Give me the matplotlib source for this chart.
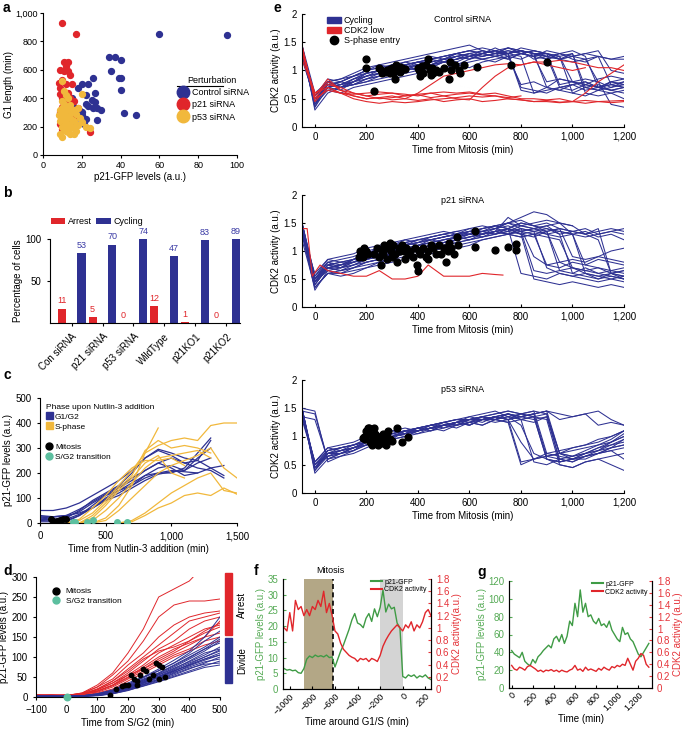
import matplotlib.pyplot as plt
import numpy as np
from matplotlib.ticker import FuncFormatter
from matplotlib.patches import Patch, Rectangle
from matplotlib.lines import Line2D

plt.rcParams['font.family'] = ['Liberation Sans', 'DejaVu Sans']
plt.rcParams['font.size'] = 7
plt.rcParams['axes.linewidth'] = 0.8
plt.rcParams['xtick.major.size'] = 2.5
plt.rcParams['ytick.major.size'] = 2.5

BLUE = '#2e3192'
RED = '#e0262b'
YEL = '#f1b83c'
TEAL = '#5cbf9f'
GREEN = '#3f9b45'
GTXT = '#55aa55'
RTXT = '#e5343a'
nan = np.nan

# ---------------- panel a: G1 length vs p21-GFP
a_ctrl_x = [60, 95, 34, 37, 40, 35, 39, 40, 40, 42, 48, 26, 23, 20, 18, 27, 22, 25, 27, 22, 23, 26,
            28, 30, 28, 22, 20, 18, 20, 17, 21, 15, 16, 17, 19]
a_ctrl_y = [850, 845, 690, 690, 670, 595, 545, 545, 460, 295, 285, 545, 500, 500, 475, 435, 420, 385,
            370, 360, 345, 330, 330, 320, 250, 255, 300, 290, 280, 260, 215, 400, 340, 320, 310]
a_p21_x = [10, 17, 11, 13, 12, 9, 11, 13, 14, 8, 10, 12, 15, 9, 11, 13, 9, 10, 12, 14, 16, 10, 12,
           9, 11, 10, 13, 9, 12, 14, 24, 10, 16, 18]
a_p21_y = [930, 850, 655, 655, 625, 600, 590, 595, 560, 510, 530, 500, 500, 470, 440, 440, 430, 400,
           380, 400, 380, 340, 320, 300, 280, 250, 230, 220, 200, 210, 165, 180, 260, 330]
a_p53_x = [20, 10, 11, 12, 13, 10, 11, 12, 13, 14, 9, 10, 11, 12, 13, 14, 15, 16, 10, 11, 12, 13, 14,
           15, 16, 10, 11, 12, 13, 9, 10, 14, 17, 18, 20, 22, 24, 12, 15, 17, 18, 11, 9, 13, 16, 19,
           8, 10, 14, 16]
a_p53_y = [430, 520, 450, 420, 400, 380, 360, 340, 330, 320, 320, 300, 290, 280, 270, 260, 250, 240,
           260, 240, 230, 220, 210, 200, 190, 200, 180, 170, 160, 150, 130, 150, 170, 210, 230, 195,
           190, 310, 300, 290, 330, 210, 240, 190, 150, 260, 280, 330, 350, 320]

# ---------------- panel b: fate counts
b_groups = ['Con siRNA', 'p21 siRNA', 'p53 siRNA', 'WildType', 'p21KO1', 'p21KO2']
b_arrest = [11, 5, 0, 12, 1, 0]
b_cycling = [53, 70, 74, 47, 83, 89]

# ---------------- panel c: p21 after Nutlin-3 (time grid 0..1500 step 100)
c_time = np.arange(0, 1501, 100)
c_g1g2 = [
    [50, 50, 60, 80, 110, 140, 170, 210, 260, 290, 270, 240, 220, 210, 180, nan],
    [20, 15, 20, 50, 90, 120, 150, 200, 260, 295, 280, 260, 250, 330, nan, nan],
    [15, 12, 10, 30, 70, 110, 140, 170, 210, 240, 260, 240, 250, 220, 230, nan],
    [25, 25, 25, 45, 80, 110, 130, 160, 190, 200, 210, 205, 200, 220, 190, nan],
    [10, 12, 15, 35, 60, 95, 120, 150, 190, 220, 230, 210, 260, 300, nan, nan],
    [20, 25, 30, 40, 60, 90, 110, 140, 170, 195, 205, 210, 240, 260, nan, nan],
    [5, 5, 5, 30, 60, 100, 130, 150, 180, 200, 200, 220, 280, 340, nan, nan],
    [30, 25, 30, 55, 85, 115, 145, 180, 210, 240, 220, 190, 200, nan, nan, nan],
]
c_sphase = [
    [nan, nan, 0, 10, 40, 90, 150, 210, 280, 310, 330, 340, 330, 390, 400, 400],
    [nan, nan, nan, 0, 30, 80, 140, 190, 290, 330, 300, 310, 300, 280, nan, nan],
    [nan, nan, nan, 0, 10, 50, 100, 160, 220, 260, 270, 280, 290, 260, nan, nan],
    [nan, nan, nan, nan, 0, 20, 70, 150, 280, 380, nan, nan, nan, nan, nan, nan],
    [nan, nan, nan, nan, 0, 10, 50, 100, 150, 200, 230, 250, 270, 300, 220, 180],
    [nan, nan, nan, nan, nan, nan, 0, 10, 40, 80, 120, 150, 180, 200, 130, 120],
    [nan, nan, nan, nan, nan, nan, 0, 5, 30, 60, 80, 110, 120, 110, 140, 115],
    [nan, nan, nan, 0, 20, 70, 130, 180, 240, 270, 200, 180, nan, nan, nan, nan],
    [nan, nan, 0, 15, 60, 110, 170, 220, 250, 250, 260, 230, nan, nan, nan, nan],
]
c_mit_x = [80, 100, 130, 150, 175, 200]
c_mit_y = [18, 8, 10, 12, 15, 18]
c_sg2_x = [250, 270, 360, 400, 590, 660]
c_sg2_y = [5, 5, 5, 12, 5, 5]

# ---------------- panel d: p21 from S/G2 (time grid -100..500 step 50)
d_time = np.arange(-100, 501, 50)
d_arrest = [
    [5, 5, 3, 10, 30, 60, 110, 170, 250, 270, 290, 330, 340],
    [5, 4, 4, 8, 25, 55, 90, 140, 200, 230, 240, 240, 245],
    [3, 5, 4, 10, 25, 45, 80, 110, 150, 180, 200, 210, 215],
    [4, 3, 5, 7, 20, 40, 70, 100, 130, 160, 190, 200, 210],
    [5, 4, 3, 6, 18, 35, 60, 90, 120, 140, 170, 190, 200],
    [3, 4, 5, 8, 15, 30, 55, 80, 110, 130, 150, 170, 180],
    [4, 5, 4, 7, 20, 40, 65, 95, 115, 125, 140, 160, 175],
    [5, 3, 4, 6, 15, 30, 50, 75, 100, 120, 135, 150, 160],
    [4, 4, 3, 7, 12, 25, 45, 65, 85, 105, 120, 140, 150],
    [3, 5, 4, 5, 10, 20, 40, 60, 80, 100, 115, 130, 140],
    [5, 4, 5, 8, 18, 35, 55, 70, 90, 110, 130, 150, 190],
    [4, 3, 4, 6, 14, 28, 48, 70, 95, 115, 140, 165, 185],
]
d_divide = [
    [2, 2, 1, 2, 5, 15, 30, 45, 60, 80, 100, 120, 135],
    [2, 1, 2, 3, 8, 18, 35, 50, 65, 85, 105, 125, 150],
    [1, 2, 1, 2, 6, 12, 25, 40, 55, 70, 90, 110, 120],
    [2, 2, 2, 3, 7, 14, 28, 42, 58, 75, 95, 115, 140],
    [1, 1, 2, 2, 4, 10, 22, 35, 50, 65, 80, 95, 110],
    [2, 1, 1, 3, 6, 12, 24, 38, 52, 68, 85, 100, 115],
    [1, 2, 2, 2, 5, 11, 20, 32, 45, 60, 78, 92, 105],
    [2, 2, 1, 3, 7, 16, 30, 48, 66, 85, 110, 140, 165],
    [1, 1, 1, 2, 4, 9, 18, 30, 42, 55, 70, 85, 100],
    [2, 2, 2, 2, 6, 13, 26, 40, 56, 72, 88, 105, 125],
    [1, 1, 2, 3, 5, 10, 20, 34, 48, 62, 75, 88, 95],
    [2, 1, 1, 2, 3, 8, 16, 28, 40, 52, 65, 78, 90],
    [1, 2, 1, 2, 5, 12, 24, 36, 50, 64, 82, 100, 118],
    [2, 2, 2, 3, 8, 17, 32, 50, 70, 92, 115, 150, 200],
    [1, 1, 1, 2, 4, 9, 19, 31, 44, 58, 72, 82, 85],
    [2, 1, 2, 2, 6, 14, 27, 43, 60, 78, 98, 120, 145],
    [1, 2, 1, 3, 5, 11, 23, 37, 52, 66, 80, 95, 105],
    [2, 2, 2, 2, 4, 8, 17, 27, 38, 50, 62, 74, 80],
]
d_mit_x = [140, 160, 180, 190, 200, 210, 220, 230, 230, 240, 250, 260, 270, 280, 290, 300, 300, 310, 320]
d_mit_y = [5, 20, 28, 30, 30, 55, 45, 40, 30, 55, 70, 65, 45, 55, 85, 80, 45, 75, 50]
d_sg2_x = [0]
d_sg2_y = [0]

# ---------------- panel e: CDK2 activity (time grid -50..1200 step 50)
e_time = np.arange(-50, 1201, 50)
e_ctrl_cycling = [
    [1.4, 0.45, 0.75, 0.8, 0.9, 1.0, 1.05, 1.0, 1.1, 1.15, 1.1, 1.2, 1.25, 1.2, 1.3, 1.25, 1.3, 1.35, 1.3, 1.25, 0.7, 0.75, 0.8, 0.7, 0.75, 0.8],
    [1.35, 0.5, 0.7, 0.75, 0.8, 0.95, 1.0, 1.05, 1.0, 1.1, 1.15, 1.2, 1.15, 1.25, 1.3, 1.35, 1.3, 1.25, 0.6, 0.65, 0.7, 0.65, 0.75, 0.7, 0.8, 0.75],
    [1.45, 0.4, 0.8, 0.7, 0.85, 0.9, 0.95, 1.0, 1.05, 1.1, 1.05, 1.15, 1.2, 1.3, 1.25, 1.3, 1.4, 1.35, 1.3, 1.3, 1.25, 0.8, 0.7, 0.75, 0.65, 0.7],
    [1.3, 0.55, 0.85, 0.8, 0.75, 0.85, 0.9, 0.95, 1.0, 1.05, 1.1, 1.15, 1.1, 1.2, 1.25, 1.3, 1.3, 1.35, 1.3, 1.25, 1.2, 1.3, 0.6, 0.55, 0.6, 0.5],
    [1.4, 0.35, 0.7, 0.65, 0.8, 0.9, 1.0, 1.1, 1.15, 1.1, 1.2, 1.25, 1.3, 1.35, 1.3, 1.35, 1.25, 0.75, 0.8, 0.7, 0.85, 0.8, 0.75, 0.85, 0.9, 0.85],
    [1.2, 0.5, 0.75, 0.7, 0.75, 0.8, 0.85, 0.9, 0.95, 1.0, 1.05, 1.0, 1.1, 1.15, 1.2, 1.25, 1.2, 1.3, 1.25, 1.2, 1.3, 1.25, 1.2, 0.8, 0.4, 0.35],
    [1.45, 0.6, 0.8, 0.85, 0.95, 1.05, 1.1, 1.15, 1.2, 1.25, 1.3, 1.35, 1.4, 1.45, 1.35, 1.3, 1.4, 1.35, 1.2, 1.25, 1.2, 1.15, 1.2, 1.25, 1.2, 1.25],
    [1.35, 0.4, 0.65, 0.6, 0.7, 0.75, 0.8, 0.85, 0.9, 0.95, 1.0, 1.05, 1.1, 1.05, 1.15, 1.2, 1.25, 1.2, 1.3, 0.7, 0.65, 0.75, 0.8, 0.7, 0.65, 0.6],
    [1.3, 0.45, 0.8, 0.75, 0.85, 0.95, 1.0, 1.1, 1.05, 1.15, 1.2, 1.25, 1.3, 1.25, 1.35, 1.3, 1.2, 1.3, 1.35, 1.3, 1.2, 1.25, 1.3, 1.35, 1.0, 0.95],
    [1.4, 0.5, 0.7, 0.8, 0.9, 1.0, 1.1, 1.05, 1.15, 1.2, 1.25, 1.2, 1.3, 1.35, 1.3, 1.4, 1.3, 0.7, 0.65, 0.6, 0.7, 0.75, 0.65, 0.7, 0.75, 0.7],
    [1.25, 0.55, 0.75, 0.7, 0.8, 0.9, 0.95, 1.0, 1.1, 1.0, 1.05, 1.15, 1.2, 1.25, 1.2, 1.15, 1.25, 1.3, 1.25, 1.35, 1.3, 1.2, 1.15, 1.25, 1.2, 1.2],
    [1.45, 0.3, 0.6, 0.7, 0.75, 0.8, 0.9, 0.95, 1.0, 1.05, 1.1, 1.15, 1.2, 1.25, 1.3, 1.25, 1.3, 1.35, 1.3, 1.2, 1.25, 1.3, 0.7, 0.65, 0.8, 0.75],
    [1.3, 0.5, 0.7, 0.75, 0.85, 0.95, 1.0, 1.05, 1.1, 1.15, 1.2, 1.15, 1.25, 1.3, 1.25, 1.3, 1.35, 1.3, 1.25, 1.3, 1.2, 1.25, 1.3, 1.25, 0.75, 0.7],
    [1.4, 0.55, 0.8, 0.7, 0.8, 0.85, 0.9, 1.0, 1.05, 1.1, 1.15, 1.2, 1.25, 1.2, 1.3, 1.35, 1.3, 1.4, 1.35, 1.3, 0.75, 0.8, 0.85, 0.8, 0.7, 0.75],
    [1.45, 0.4, 0.75, 0.8, 0.9, 0.95, 1.0, 1.05, 1.1, 1.15, 1.2, 1.25, 1.3, 1.35, 1.4, 1.35, 1.3, 1.35, 1.3, 1.25, 1.3, 1.35, 1.25, 0.7, 0.65, 0.7],
    [1.35, 0.5, 0.65, 0.7, 0.75, 0.85, 0.95, 1.0, 1.05, 1.0, 1.1, 1.15, 1.2, 1.25, 1.2, 1.25, 1.3, 0.65, 0.6, 0.7, 0.65, 0.6, 0.7, 0.65, 0.6, 0.65],
    [1.25, 0.45, 0.7, 0.75, 0.8, 0.9, 0.95, 1.05, 1.1, 1.15, 1.1, 1.2, 1.25, 1.3, 1.35, 1.3, 1.35, 1.3, 1.35, 1.3, 1.25, 0.6, 0.55, 0.65, 0.7, 0.8],
    [1.4, 0.35, 0.8, 0.85, 0.9, 1.0, 1.05, 1.1, 1.05, 1.1, 1.15, 1.2, 1.3, 1.25, 1.3, 1.35, 1.4, 1.3, 1.25, 0.8, 0.85, 0.8, 0.75, 0.7, 0.8, 0.85],
]
e_ctrl_low = [
    [1.4, 0.5, 0.8, 0.65, 0.55, 0.5, 0.52, 0.48, 0.5, 0.47, 0.5, 0.45, 0.48, 0.5, 0.45, 0.47, 0.5, 0.48, 0.45, 0.47, 0.44, 0.45, 0.47, 0.45, 0.46, 0.47],
    [1.3, 0.6, 0.75, 0.7, 0.6, 0.55, 0.58, 0.6, 0.55, 0.57, 0.52, 0.55, 0.5, 0.48, 0.7, 0.9, 1.05, 1.1, 1.15, 1.15, 1.18, 1.15, 1.1, 1.05, 1.05, 1.0],
    [1.45, 0.45, 0.7, 0.6, 0.5, 0.45, 0.42, 0.45, 0.43, 0.45, 0.48, 0.5, 0.52, 0.55, 0.53, 0.55, 0.52, 0.55],
    [1.35, 0.55, 0.85, 0.65, 0.6, 0.55, 0.5, 0.52, 0.55, 0.58, 0.6, 0.55, 0.58, 0.6, 0.57, 0.55, 0.5, 0.48, 0.45, 0.45, 0.43, 0.45, 0.6, 0.8, 0.95, 1.1],
    [1.4, 0.5, 0.65, 0.6, 0.55, 0.5, 0.52, 0.55, 0.5, 0.6, 0.75, 0.9, 0.95, 1.0, 1.05, 1.1, 1.12, 1.1, 1.15, 1.1, 1.05, 1.0, 1.05],
    [1.2, 0.6, 0.7, 0.6, 0.58, 0.6, 0.62, 0.6, 0.58, 0.55, 0.6, 0.62, 0.6, 0.62, 0.58, 0.6, 0.55, 0.5, 0.5, 0.48, 0.5, 0.45, 0.42, 0.45, 0.43, 0.45],
]
e_ctrl_s_x = [200, 200, 230, 250, 255, 265, 275, 280, 290, 300, 305, 310, 315, 320, 330, 340, 350, 400, 405,
              410, 420, 430, 440, 445, 450, 460, 470, 480, 500, 520, 525, 530, 545, 560, 565, 580, 630, 760,
              900, 290, 260, 330, 415, 455]
e_ctrl_s_y = [1.2, 1.05, 0.63, 1.05, 1.0, 0.98, 0.97, 1.0, 1.02, 1.05, 0.95, 0.85, 1.1, 1.0, 0.98, 1.05,
              1.03, 1.05, 1.0, 0.9, 0.95, 1.1, 1.2, 1.0, 0.92, 0.95, 1.0, 0.97, 1.05, 0.85, 1.15, 1.0, 1.1,
              1.0, 0.95, 1.1, 1.06, 1.1, 1.15, 0.95, 0.95, 1.07, 1.08, 1.05]

e_p21_cycling = [
    [1.5, 0.4, 0.7, 0.75, 0.8, 0.9, 1.0, 1.05, 1.0, 1.1, 1.15, 1.2, 1.25, 1.2, 1.3, 1.35, 1.3, 1.25, 1.3, 1.35, 0.8, 0.7, 0.65, 0.7, 0.6, 0.65],
    [1.4, 0.5, 0.8, 0.7, 0.85, 0.95, 1.05, 1.1, 1.15, 1.1, 1.2, 1.25, 1.3, 1.35, 1.4, 1.45, 1.5, 1.4, 1.35, 0.7, 0.6, 0.55, 0.6, 0.5, 0.55, 0.5],
    [1.35, 0.3, 0.65, 0.6, 0.7, 0.8, 0.85, 0.9, 0.95, 1.0, 1.05, 1.1, 1.15, 1.2, 1.25, 1.3, 1.35, 1.45, 1.4, 1.3, 1.35, 1.3, 1.25, 1.3, 1.35, 1.4],
    [1.5, 0.45, 0.75, 0.8, 0.85, 0.9, 0.95, 1.0, 1.1, 1.15, 1.2, 1.15, 1.25, 1.3, 1.25, 1.35, 1.6, 1.45, 1.5, 1.55, 1.5, 1.45],
    [1.45, 0.5, 0.7, 0.65, 0.75, 0.85, 0.9, 1.0, 1.05, 1.1, 1.15, 1.2, 1.25, 1.3, 1.35, 1.3, 1.4, 0.6, 0.55, 0.5, 0.6, 0.55, 0.5, 0.45, 0.5, 0.45],
    [1.3, 0.35, 0.6, 0.55, 0.6, 0.7, 0.75, 0.8, 0.85, 0.9, 0.95, 1.0, 1.05, 1.1, 1.2, 1.25, 1.3, 1.35, 1.3, 1.25, 1.2, 0.7, 0.65, 0.6, 0.55, 0.5],
    [1.5, 0.55, 0.85, 0.9, 0.95, 1.05, 1.1, 1.15, 1.2, 1.25, 1.3, 1.35, 1.3, 1.4, 1.45, 1.4, 1.5, 1.45, 1.4, 1.45, 1.3, 1.35, 1.4, 1.3, 1.35, 1.3],
    [1.4, 0.4, 0.7, 0.75, 0.8, 0.85, 0.9, 0.95, 1.0, 1.05, 1.1, 1.15, 1.2, 1.25, 1.3, 1.35, 1.3, 1.4, 0.9, 0.75, 0.8, 0.85, 0.8, 0.9, 0.85, 0.8],
    [1.45, 0.45, 0.75, 0.7, 0.75, 0.8, 0.85, 0.9, 0.95, 1.0, 1.05, 1.1, 1.15, 1.2, 1.25, 1.3, 1.4, 1.35, 1.4, 1.45, 1.5, 1.3, 0.6, 0.55, 0.5, 0.55],
    [1.35, 0.5, 0.8, 0.85, 0.9, 1.0, 1.05, 1.0, 1.1, 1.15, 1.2, 1.25, 1.3, 1.35, 1.3, 1.35, 1.4, 1.3, 1.25, 1.35, 0.65, 0.6, 0.7, 0.6, 0.65, 0.6],
    [1.2, 0.35, 0.6, 0.6, 0.65, 0.7, 0.8, 0.85, 0.9, 0.95, 1.0, 1.05, 1.1, 1.15, 1.2, 1.25, 1.3, 1.35, 1.4, 1.35, 1.4, 1.35, 1.3, 1.2, 0.6, 0.55],
    [1.5, 0.5, 0.75, 0.7, 0.8, 0.9, 1.0, 1.1, 1.2, 1.15, 1.25, 1.3, 1.35, 1.4, 1.35, 1.45, 1.4, 1.5, 1.45, 1.35, 1.4, 0.9, 0.85, 0.9, 1.0, 1.05],
    [1.4, 0.45, 0.7, 0.65, 0.7, 0.75, 0.8, 0.9, 0.95, 1.05, 1.1, 1.15, 1.2, 1.25, 1.3, 1.35, 1.4, 1.3, 0.5, 0.45, 0.4, 0.45, 0.4, 0.35, 0.4, 0.35],
    [1.3, 0.6, 0.85, 0.8, 0.85, 0.95, 1.0, 1.05, 1.1, 1.2, 1.25, 1.3, 1.35, 1.3, 1.4, 1.45, 1.5, 1.6, 1.7, 1.65, 1.5, 1.45, 1.3, 1.35, 1.4, 1.35],
    [1.45, 0.4, 0.7, 0.7, 0.8, 0.85, 0.95, 1.0, 1.05, 1.1, 1.15, 1.2, 1.25, 1.3, 1.35, 1.3, 1.35, 1.4, 1.35, 1.3, 1.25, 1.3, 0.75, 0.7, 0.65, 0.7],
    [1.5, 0.55, 0.8, 0.75, 0.85, 0.9, 0.95, 1.05, 1.1, 1.15, 1.2, 1.25, 1.3, 1.35, 1.3, 1.4, 1.45, 1.35, 0.65, 0.6, 0.65, 0.7, 0.6, 0.55, 0.6, 0.65],
    [1.3, 0.45, 0.65, 0.7, 0.75, 0.85, 0.9, 0.95, 1.0, 1.1, 1.15, 1.1, 1.2, 1.3, 1.35, 1.4, 1.35, 1.3, 1.35, 1.4, 1.35, 1.3, 1.35, 1.25, 1.3, 1.2],
    [1.4, 0.5, 0.75, 0.8, 0.8, 0.9, 1.0, 1.05, 1.15, 1.2, 1.25, 1.3, 1.25, 1.35, 1.4, 1.45, 1.4, 1.5, 1.45, 1.4, 1.3, 0.6, 0.55, 0.5, 0.6, 0.55],
    [1.35, 0.35, 0.6, 0.65, 0.7, 0.8, 0.85, 0.95, 1.0, 1.05, 1.1, 1.15, 1.2, 1.25, 1.3, 1.35, 1.3, 1.25, 1.3, 0.75, 0.7, 0.8, 0.75, 0.85, 0.8, 0.75],
    [1.45, 0.5, 0.7, 0.75, 0.85, 0.95, 1.05, 1.1, 1.15, 1.2, 1.2, 1.25, 1.3, 1.3, 1.35, 1.4, 1.5, 1.55, 1.45, 1.5, 1.4, 1.35, 1.3, 1.4, 0.6, 0.5],
]
e_p21_low_t = [-50, -30, -10, 20, 50, 100, 150, 200, 250, 300, 350, 400, 440, 500, 550, 600, 650, 700, 730]
e_p21_low_v = [1.4, 1.4, 0.55, 0.75, 0.65, 0.6, 0.55, 0.55, 0.65, 0.5, 0.5, 0.55, 0.75, 0.55, 0.55, 0.55, 0.6, 0.58, 0.57]
e_p21_s_x = [170, 175, 180, 185, 190, 200, 205, 240, 250, 255, 260, 265, 270, 280, 285, 290, 295, 300, 305,
             310, 320, 325, 330, 340, 350, 355, 360, 370, 380, 390, 395, 400, 405, 410, 420, 430, 440, 450,
             460, 470, 480, 490, 500, 510, 515, 520, 530, 540, 550, 555, 620, 620, 700, 750, 780, 780, 230,
             345, 440]
e_p21_s_y = [0.9, 1.0, 0.95, 0.9, 1.05, 1.0, 0.95, 1.05, 0.9, 0.75, 1.0, 0.95, 1.1, 0.85, 1.05, 1.15, 1.0,
             0.9, 1.1, 0.95, 0.8, 1.05, 1.0, 1.1, 0.85, 1.05, 0.95, 1.0, 0.9, 1.05, 0.75, 0.65, 1.0, 0.95,
             1.05, 0.9, 1.0, 1.1, 1.05, 0.95, 1.1, 0.95, 1.05, 0.8, 1.0, 1.15, 1.05, 0.95, 1.25, 1.1, 1.35,
             1.08, 1.02, 1.08, 1.12, 1.02, 0.95, 1.0, 0.85]

e_p53_cycling = [
    [1.5, 0.5, 0.7, 0.75, 0.8, 0.9, 1.0, 1.05, 1.1, 1.1, 1.15, 1.2, 1.2, 1.25, 1.3, 1.3, 1.35, 1.4, 1.35, 0.6, 0.55, 0.6, 0.7, 0.8, 0.85, 0.95],
    [1.45, 1.4, 0.6, 0.7, 0.8, 0.9, 0.95, 1.0, 1.05, 1.1, 1.15, 1.2, 1.25, 1.2, 1.3, 1.35, 1.3, 1.35, 1.4, 1.45, 0.7, 0.6, 0.65, 0.75, 0.9, 1.05],
    [1.5, 0.4, 0.65, 0.7, 0.75, 0.85, 0.9, 0.95, 1.0, 1.05, 1.1, 1.15, 1.2, 1.25, 1.2, 1.3, 1.25, 0.5, 0.6, 0.65, 0.7, 0.75, 0.8, 0.85, 0.9, 1.0],
    [1.4, 0.5, 0.75, 0.8, 0.85, 0.95, 1.0, 1.1, 1.05, 1.15, 1.2, 1.15, 1.25, 1.3, 1.35, 1.3, 1.4, 1.35, 1.4, 1.45, 1.4, 1.35, 1.4, 1.45, 1.3, 1.2],
    [1.5, 0.35, 0.6, 0.65, 0.7, 0.8, 0.9, 0.95, 1.0, 1.1, 1.15, 1.2, 1.25, 1.3, 1.3, 1.35, 1.4, 1.3, 1.35, 1.3, 0.5, 0.45, 0.55, 0.6, 0.65, 0.7],
    [1.35, 0.55, 0.8, 0.85, 0.9, 1.0, 1.05, 1.0, 1.1, 1.15, 1.1, 1.2, 1.25, 1.2, 1.3, 1.25, 1.3, 0.9, 0.6, 0.65, 0.7, 0.8, 0.85, 0.9, 1.0, 1.1],
    [1.5, 1.45, 0.55, 0.65, 0.75, 0.85, 0.9, 1.0, 1.05, 1.1, 1.15, 1.2, 1.25, 1.3, 1.35, 1.4, 1.45, 1.4, 1.45, 0.7, 0.65, 0.6, 0.7, 0.75, 0.8, 0.85],
    [1.4, 0.45, 0.7, 0.7, 0.8, 0.9, 0.95, 1.05, 1.1, 1.05, 1.15, 1.2, 1.15, 1.25, 1.3, 1.35, 1.3, 1.4, 1.35, 1.4, 0.55, 0.6, 0.6, 0.7, 0.75, 0.8],
    [1.45, 0.5, 0.65, 0.75, 0.8, 0.85, 0.95, 1.0, 1.05, 1.1, 1.2, 1.25, 1.3, 1.25, 1.35, 1.3, 1.35, 1.3, 0.55, 0.5, 0.6, 0.55, 0.65, 0.7, 0.75, 0.6],
    [1.5, 0.4, 0.75, 0.8, 0.85, 0.9, 1.0, 0.95, 1.1, 1.15, 1.2, 1.25, 1.2, 1.3, 1.35, 1.3, 1.4, 1.35, 1.4, 1.45, 1.3, 1.35, 1.4, 1.2, 1.25, 1.2],
    [1.3, 0.55, 0.8, 0.75, 0.8, 0.9, 1.0, 1.05, 1.0, 1.1, 1.15, 1.1, 1.2, 1.25, 1.2, 1.3, 1.25, 1.3, 1.25, 1.35, 0.7, 0.65, 0.75, 0.85, 0.95, 1.1],
    [1.5, 0.45, 0.7, 0.8, 0.85, 0.95, 1.0, 1.05, 1.1, 1.15, 1.2, 1.25, 1.3, 1.35, 1.4, 1.45, 1.35, 1.2, 0.7, 0.6, 0.5, 0.45, 0.55, 0.6, 0.5, 0.4],
    [1.45, 0.5, 0.7, 0.75, 0.85, 0.9, 0.95, 1.0, 1.05, 1.1, 1.15, 1.2, 1.25, 1.3, 1.25, 1.35, 1.3, 1.35, 1.4, 0.65, 0.6, 0.65, 0.7, 0.8, 0.9, 1.0],
    [1.5, 0.45, 0.65, 0.7, 0.8, 0.85, 0.95, 1.05, 1.1, 1.15, 1.1, 1.2, 1.25, 1.2, 1.3, 1.35, 1.4, 1.35, 1.3, 1.35, 0.6, 0.55, 0.65, 0.7, 0.8, 0.85],
    [1.35, 1.3, 0.6, 0.7, 0.75, 0.9, 1.0, 1.0, 1.05, 1.15, 1.2, 1.25, 1.2, 1.3, 1.3, 1.35, 1.3, 0.55, 0.6, 0.7, 0.75, 0.8, 0.85, 0.95, 1.0, 1.1],
    [1.5, 0.4, 0.7, 0.75, 0.8, 0.9, 1.0, 1.1, 1.15, 1.1, 1.15, 1.25, 1.3, 1.3, 1.35, 1.4, 1.45, 1.4, 1.45, 1.4, 0.7, 0.65, 0.7, 0.75, 0.85, 0.9],
    [1.4, 0.55, 0.75, 0.8, 0.85, 0.9, 0.95, 1.0, 1.1, 1.1, 1.2, 1.2, 1.25, 1.35, 1.3, 1.35, 1.4, 1.3, 1.35, 0.6, 0.55, 0.6, 0.65, 0.7, 0.8, 0.95],
]
e_p53_s_x = [190, 195, 200, 205, 210, 215, 220, 225, 230, 235, 240, 245, 250, 255, 260, 265, 270, 275, 280,
             285, 290, 300, 320, 340, 360, 210, 230, 185, 270]
e_p53_s_y = [1.0, 0.95, 1.1, 1.15, 1.05, 0.9, 0.85, 1.0, 0.95, 1.05, 0.9, 0.85, 1.0, 0.95, 0.88, 1.05, 0.92,
             0.85, 1.0, 1.1, 0.95, 0.92, 1.15, 0.9, 1.0, 1.15, 1.15, 0.97, 0.98]

# ---------------- panel f: single cell around G1/S (step 25 min)
f_time = np.arange(-1050, 251, 25)
f_p21 = [6.5, 6.0, 6.2, 5.8, 6.0, 5.2, 5.0, 6.5, 9.5, 10.5, 10.0, 10.8, 10.3, 10.6, 10.2, 10.8, 10.0, 10.2, 7.0,
         9.5, 12.0, 14.0, 16.5, 19.0, 22.0, 24.0, 21.0, 20.5, 19.5, 22.5, 24.0, 21.5, 25.5, 23.0, 26.0, 31.5,
         24.5, 27.0, 25.5, 26.0, 21.0, 19.5, 4.0, 3.5, 4.5, 4.0, 4.5, 3.5, 4.2, 3.8, 4.5, 3.5, 3.0]
f_cdk2 = [1.0, 0.95, 1.25, 0.95, 1.45, 1.3, 1.35, 1.2, 1.3, 1.2, 1.35, 1.3, 1.45, 1.35, 1.6, 1.25, 1.4, 1.2, 0.95,
          0.9, 0.75, 0.65, 0.6, 0.55, 0.52, 0.5, 0.45, 0.5, 0.48, 0.5, 0.45, 0.5, 0.48, 0.45, 0.55, 0.7, 0.8,
          0.88, 0.95, 1.0, 1.05, 1.0, 0.95, 1.05, 1.0, 1.1, 0.95, 1.05, 1.0, 1.1, 1.25, 1.3, 1.2]

# ---------------- panel g: arrested cell (step 25 min)
g_time = np.arange(0, 1301, 25)
g_p21 = [42, 38, 36, 34, 40, 30, 27, 25, 32, 28, 35, 38, 42, 45, 48, 45, 55, 58, 52, 60, 50, 58, 75, 70, 95,
         80, 110, 85, 95, 80, 82, 75, 72, 78, 70, 72, 68, 75, 65, 60, 55, 52, 68, 60, 62, 55, 52, 45, 38, 35,
         40, 45, 50]
g_cdk2 = [0.38, 0.32, 0.3, 0.35, 0.33, 0.3, 0.36, 0.38, 0.35, 0.32, 0.28, 0.3, 0.27, 0.3, 0.29, 0.31, 0.28,
          0.3, 0.27, 0.3, 0.28, 0.27, 0.3, 0.32, 0.38, 0.3, 0.32, 0.28, 0.35, 0.3, 0.32, 0.3, 0.28, 0.33, 0.3,
          0.35, 0.32, 0.3, 0.36, 0.34, 0.38, 0.36, 0.4, 0.38, 0.5, 0.4, 0.3, 0.45, 0.5, 0.58, 0.55, 0.4, 0.35]


def comma(v, p):
    return f'{v:,.0f}'.replace('-', '\u2212')


def box_off(ax):
    ax.spines['top'].set_visible(False)
    ax.spines['right'].set_visible(False)


W, H = 685, 731


def place(x0, y0, x1, y1):
    # pixel box (left, top, right, bottom) -> figure fraction
    return [x0 / W, 1 - y1 / H, (x1 - x0) / W, (y1 - y0) / H]


fig = plt.figure(figsize=(6.85, 7.31), dpi=100)

# ---------- a
ax = fig.add_axes(place(43, 13, 237, 155))
ax.scatter(a_ctrl_x, a_ctrl_y, s=18, color=BLUE, zorder=2)
ax.scatter(a_p21_x, a_p21_y, s=18, color=RED, zorder=3)
ax.scatter(a_p53_x, a_p53_y, s=18, color=YEL, zorder=4)
ax.set_xlim(0, 100)
ax.set_ylim(0, 1000)
ax.set_yticks(range(0, 1001, 200))
ax.yaxis.set_major_formatter(FuncFormatter(comma))
ax.tick_params(labelsize=6.5, pad=1.5)
ax.set_xlabel('p21-GFP levels (a.u.)', labelpad=2)
ax.set_ylabel('G1 length (min)', labelpad=1)
box_off(ax)
hs = [Line2D([], [], marker='o', ls='', color=c, markersize=9, label=l)
      for c, l in [(BLUE, 'Control siRNA'), (RED, 'p21 siRNA'), (YEL, 'p53 siRNA')]]
ax.legend(handles=hs, title='Perturbation', frameon=False, loc='upper left',
          bbox_to_anchor=(0.64, 0.6), fontsize=6.5, title_fontsize=6.5,
          handletextpad=0.1, labelspacing=0.35, borderpad=0.2)
ax.plot([0.69, 0.93], [0.487, 0.487], color='black', lw=0.8, transform=ax.transAxes, clip_on=False)

# ---------- b
ax = fig.add_axes(place(50, 239, 240, 323))
xg = np.arange(len(b_groups))
tot = np.array(b_arrest) + np.array(b_cycling)
pa = 100 * np.array(b_arrest) / tot
pc = 100 * np.array(b_cycling) / tot
ax.bar(xg - 0.32, pa, width=0.26, color=RED, label='Arrest')
ax.bar(xg + 0.32, pc, width=0.26, color=BLUE, label='Cycling')
for i in range(len(b_groups)):
    ax.text(xg[i] - 0.32, pa[i] + 4, str(b_arrest[i]), color=RED, ha='center', va='bottom', fontsize=6.5)
    ax.text(xg[i] + 0.32, pc[i] + 4, str(b_cycling[i]), color='#3b3ba5', ha='center', va='bottom',
            fontsize=6.5, clip_on=False)
ax.set_xlim(-0.7, 5.45)
ax.set_ylim(0, 100)
ax.set_yticks([50, 100])
ax.set_xticks(xg)
ax.set_xticklabels(b_groups, rotation=45, ha='right', rotation_mode='anchor')
ax.set_ylabel('Percentage of cells', labelpad=2)
box_off(ax)
ax.legend(loc='lower left', bbox_to_anchor=(-0.02, 1.1), ncol=2, frameon=False, fontsize=6.5,
          handlelength=1.6, handleheight=0.6, handletextpad=0.3, columnspacing=0.5, borderpad=0)

# ---------- c
ax = fig.add_axes(place(40, 398, 237, 523))
for v in c_g1g2:
    ax.plot(c_time, v, color=BLUE, lw=0.9)
for v in c_sphase:
    ax.plot(c_time, v, color=YEL, lw=0.9)
ax.scatter(c_mit_x, c_mit_y, s=16, color='black', zorder=5)
ax.scatter(c_sg2_x, c_sg2_y, s=16, color=TEAL, zorder=5)
ax.set_xlim(0, 1500)
ax.set_ylim(0, 500)
ax.set_xticks([0, 500, 1000, 1500])
ax.xaxis.set_major_formatter(FuncFormatter(comma))
ax.set_xlabel('Time from Nutlin-3 addition (min)', labelpad=2)
ax.set_ylabel('p21-GFP levels (a.u.)', labelpad=2)
box_off(ax)
hs = [Patch(color=BLUE, label='G1/G2'), Patch(color=YEL, label='S-phase'),
      Line2D([], [], ls='', label=' '),
      Line2D([], [], marker='o', ls='', color='black', markersize=5, label='Mitosis'),
      Line2D([], [], marker='o', ls='', color=TEAL, markersize=5, label='S/G2 transition')]
leg = ax.legend(handles=hs, title='Phase upon Nutlin-3 addition', frameon=False, loc='upper left',
                bbox_to_anchor=(0.0, 1.0), fontsize=6, title_fontsize=6, handlelength=0.8,
                handleheight=0.9, handletextpad=0.3, labelspacing=0.2, borderpad=0.2)
leg._legend_box.align = 'left'

# ---------- d
ax = fig.add_axes(place(36, 577, 220, 697))
for v in d_arrest:
    ax.plot(d_time, v, color=RED, lw=0.7)
for v in d_divide:
    ax.plot(d_time, v, color=BLUE, lw=0.7)
ax.scatter(d_mit_x, d_mit_y, s=10, color='black', zorder=5)
ax.scatter(d_sg2_x, d_sg2_y, s=22, color=TEAL, zorder=6, clip_on=False)
ax.set_xlim(-100, 500)
ax.set_ylim(0, 300)
ax.set_xticks(range(-100, 501, 100))
ax.xaxis.set_major_formatter(FuncFormatter(comma))
ax.set_xlabel('Time from S/G2 (min)', labelpad=2)
ax.set_ylabel('p21-GFP levels (a.u.)', labelpad=2)
box_off(ax)
hs = [Line2D([], [], marker='o', ls='', color='black', markersize=5, label='Mitosis'),
      Line2D([], [], marker='o', ls='', color=TEAL, markersize=5, label='S/G2 transition')]
ax.legend(handles=hs, frameon=False, loc='upper left', bbox_to_anchor=(0.03, 0.96), fontsize=6,
          handletextpad=0.2, labelspacing=0.2, borderpad=0.2)
ax.add_patch(Rectangle((1.027, 0.517), 0.04, 0.52, color=RED, transform=ax.transAxes, clip_on=False))
ax.add_patch(Rectangle((1.027, 0.117), 0.04, 0.373, color=BLUE, transform=ax.transAxes, clip_on=False))
ax.text(1.12, 0.77, 'Arrest', rotation=90, ha='center', va='center', transform=ax.transAxes, fontsize=7)
ax.text(1.12, 0.30, 'Divide', rotation=90, ha='center', va='center', transform=ax.transAxes, fontsize=7)

# ---------- e
e_sets = [
    ('Control siRNA', place(302, 14, 624, 127), e_ctrl_cycling, e_ctrl_low, None, e_ctrl_s_x, e_ctrl_s_y, 0.947),
    ('p21 siRNA', place(302, 195, 624, 307), e_p21_cycling, [], (e_p21_low_t, e_p21_low_v), e_p21_s_x, e_p21_s_y, 0.955),
    ('p53 siRNA', place(302, 380, 624, 493), e_p53_cycling, [], None, e_p53_s_x, e_p53_s_y, 0.92),
]
for k, (title, pos, cyc, low, low_tv, sx, sy, ty) in enumerate(e_sets):
    ax = fig.add_axes(pos)
    for v in cyc:
        ax.plot(e_time[:len(v)], v, color=BLUE, lw=0.75)
    for v in low:
        ax.plot(e_time[:len(v)], v, color=RED, lw=0.8)
    if low_tv is not None:
        ax.plot(low_tv[0], low_tv[1], color=RED, lw=0.8)
    ax.scatter(sx, sy, s=24, color='black', zorder=5)
    ax.set_xlim(-50, 1200)
    ax.set_ylim(0, 2)
    ax.set_yticks([0, 0.5, 1, 1.5, 2])
    ax.set_yticklabels(['0', '0.5', '1', '1.5', '2'])
    ax.set_xticks(range(0, 1201, 200))
    ax.xaxis.set_major_formatter(FuncFormatter(comma))
    ax.tick_params(direction='in')
    ax.set_xlabel('Time from Mitosis (min)', labelpad=2)
    ax.set_ylabel('CDK2 activity (a.u.)', labelpad=2)
    box_off(ax)
    ax.text(0.5, ty, title, transform=ax.transAxes, ha='center', va='center', fontsize=6.5)
    if k == 0:
        hs = [Patch(color=BLUE, label='Cycling'), Patch(color=RED, label='CDK2 low'),
              Line2D([], [], marker='o', ls='', color='black', markersize=6, label='S-phase entry')]
        ax.legend(handles=hs, frameon=False, loc='upper left', bbox_to_anchor=(0.06, 1.03), fontsize=6.5,
                  handlelength=1.6, handleheight=0.6, handletextpad=0.3, labelspacing=0.1, borderpad=0.1)

# ---------- f
ax = fig.add_axes(place(283, 579, 431, 689))
ax.axvspan(-870, -615, color='#b3a786', lw=0)
ax.axvspan(-200, 0, color='#d4d4d4', lw=0)
ax.axvline(-615, color='black', ls='--', lw=1.2, dashes=(3, 2))
ax.plot(f_time, f_p21, color=GREEN, lw=1.0)
ax.set_xlim(-1060, 250)
ax.set_ylim(0, 35)
ax.set_yticks(range(0, 36, 5))
ax.set_xticks(range(-1000, 201, 200))
ax.set_xticklabels([str(t).replace('-', '\u2212') for t in range(-1000, 201, 200)], rotation=45,
                   ha='right', rotation_mode='anchor')
ax.tick_params(axis='y', colors=GTXT, direction='in')
ax.tick_params(axis='x', direction='in', labelsize=6.5, pad=2)
ax.spines['left'].set_color('black')
ax.spines['top'].set_visible(False)
ax.set_ylabel('p21-GFP levels (a.u.)', color=GTXT, labelpad=1)
ax.set_xlabel('Time around G1/S (min)', labelpad=1)
ax.text(-640, 36.2, 'Mitosis', ha='center', va='bottom', fontsize=6.5)
ax2 = ax.twinx()
ax2.plot(f_time, f_cdk2, color=RED, lw=1.0)
ax2.set_ylim(0, 1.8)
ax2.set_yticks(np.round(np.arange(0, 1.81, 0.2), 1))
ax2.yaxis.set_major_formatter(FuncFormatter(lambda v, p: f'{v:g}'))
ax2.tick_params(axis='y', colors=RTXT, direction='in')
ax2.spines['right'].set_color('black')
ax2.spines['top'].set_visible(False)
ax2.set_ylabel('CDK2 activity(a.u.)', color=RTXT, labelpad=2)
hs = [Line2D([], [], color=GREEN, lw=1.5, label='p21-GFP'), Line2D([], [], color=RED, lw=1.5, label='CDK2 activity')]
ax2.legend(handles=hs, frameon=False, loc='upper right', bbox_to_anchor=(1.0, 1.04), fontsize=5,
           handlelength=1.5, handletextpad=0.4, labelspacing=0.1, borderpad=0.1)

# ---------- g
ax = fig.add_axes(place(509, 581, 652, 688))
ax.plot(g_time, g_p21, color=GREEN, lw=1.0)
ax.set_xlim(-25, 1330)
ax.set_ylim(0, 120)
ax.set_yticks(range(0, 121, 20))
ax.set_xticks(range(0, 1201, 200))
ax.set_xticklabels([f'{t:,}' for t in range(0, 1201, 200)], rotation=45, ha='right', rotation_mode='anchor')
ax.tick_params(axis='y', colors=GTXT, direction='in')
ax.tick_params(axis='x', direction='in', labelsize=6.5, pad=2)
ax.spines['top'].set_visible(False)
ax.set_ylabel('p21-GFP levels (a.u.)', color=GTXT, labelpad=1)
ax.set_xlabel('Time (min)', labelpad=1)
ax2 = ax.twinx()
ax2.plot(g_time, g_cdk2, color=RED, lw=1.0)
ax2.set_ylim(0, 1.8)
ax2.set_yticks(np.round(np.arange(0, 1.81, 0.2), 1))
ax2.yaxis.set_major_formatter(FuncFormatter(lambda v, p: f'{v:g}'))
ax2.tick_params(axis='y', colors=RTXT, direction='in')
ax2.spines['top'].set_visible(False)
ax2.set_ylabel('CDK2 activity (a.u.)', color=RTXT, labelpad=2)
hs = [Line2D([], [], color=GREEN, lw=1.5, label='p21-GFP'), Line2D([], [], color=RED, lw=1.5, label='CDK2 activity')]
ax2.legend(handles=hs, frameon=False, loc='upper right', bbox_to_anchor=(1.0, 1.04), fontsize=5,
           handlelength=1.5, handletextpad=0.4, labelspacing=0.1, borderpad=0.1)

# panel letters
for lab, px, py in [('a', 3, 8), ('b', 3, 193), ('c', 3, 375), ('d', 3, 571), ('e', 273, 8),
                    ('f', 254, 571), ('g', 477, 572)]:
    fig.text(px / W, 1 - py / H, lab, fontsize=10, fontweight='bold', va='center', ha='left')

plt.savefig('out.png', dpi=100)
